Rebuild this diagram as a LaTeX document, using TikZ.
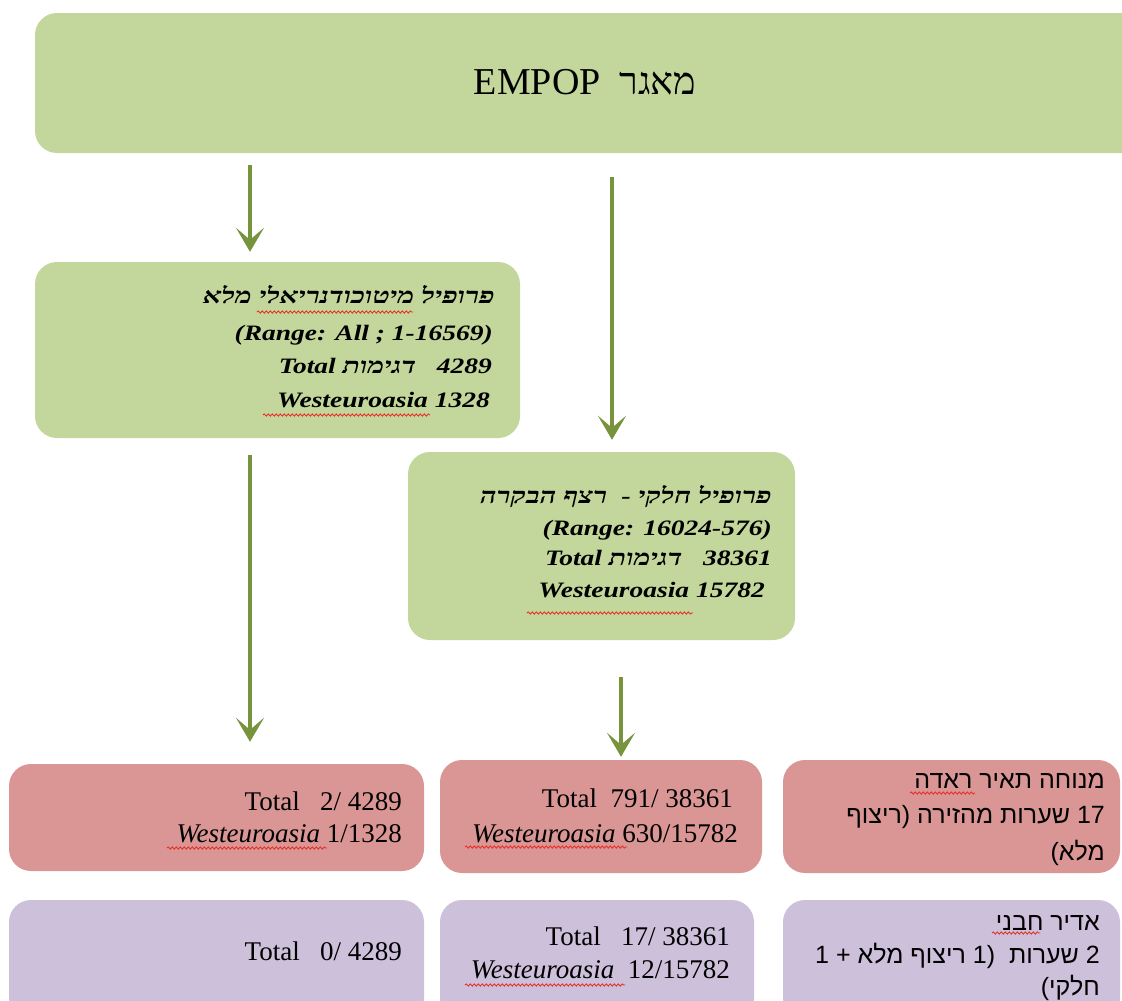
\documentclass[tikz,border=0pt]{standalone}
\usepackage{fontspec}
\setmainfont{Liberation Serif}
\newfontfamily\hebserif[Script=Hebrew]{Liberation Serif}
\newfontfamily\gfont[FakeStretch=1.25]{Liberation Serif}
\newfontfamily\ghebfont[Script=Hebrew,FakeStretch=1.3]{Liberation Serif}
\newfontfamily\hebsans[Script=Hebrew]{Liberation Sans}
\usetikzlibrary{arrows.meta,decorations.pathmorphing}
\TeXXeTstate=1
\definecolor{gfill}{HTML}{C3D69B}
\definecolor{garrow}{HTML}{77933C}
\definecolor{rfill}{HTML}{D99694}
\definecolor{pfill}{HTML}{CCC0DA}
\definecolor{squig}{HTML}{E8302A}
\tikzset{
  box/.style={rounded corners=22pt, draw=none, inner sep=0pt},
  gbox/.style={box, fill=gfill},
  rbox/.style={box, fill=rfill},
  pbox/.style={box, fill=pfill},
  arr/.style={draw=garrow, line width=4.5pt, -{Stealth[length=24pt,width=28pt,inset=12pt]}},
  gtxt/.style={anchor=base east, inner sep=0pt, font=\fontsize{22}{26}\selectfont\gfont\bfseries\itshape},
  btxt/.style={anchor=base east, inner sep=0pt, font=\fontsize{27}{30}\selectfont},
  htxt/.style={anchor=base east, inner sep=0pt, font=\fontsize{25}{28}\selectfont\hebsans},
  wavy/.style={draw=squig, line width=0.9pt, decorate, decoration={snake, segment length=4pt, amplitude=1.1pt}}
}
\newcommand{\gheb}[1]{{\ghebfont\bfseries\itshape\beginR #1\endR}}
\begin{document}
\begin{tikzpicture}[x=1pt,y=-1pt]
\useasboundingbox (0,0) rectangle (1122,1001);
\begin{scope}
\clip (0,0) rectangle (1122,1001);
% boxes
\node[gbox, minimum width=1115pt, minimum height=140pt] (top) at (592.5,83) {};
\node[gbox, minimum width=485pt, minimum height=176pt] (A) at (277.5,350) {};
\node[gbox, minimum width=387pt, minimum height=188pt] (B) at (601.5,546) {};
\node[rbox, minimum width=415pt, minimum height=107pt] (R1) at (216.5,817.5) {};
\node[rbox, minimum width=322pt, minimum height=113pt] (R2) at (601,816.5) {};
\node[rbox, minimum width=337pt, minimum height=113pt] (R3) at (951.5,816.5) {};
\node[pbox, minimum width=415pt, minimum height=120pt] (P1) at (216.5,960) {};
\node[pbox, minimum width=314pt, minimum height=120pt] (P2) at (597,960) {};
\node[pbox, minimum width=337pt, minimum height=120pt] (P3) at (951.5,960) {};

% title
\node[inner sep=0pt, font=\fontsize{38}{40}\selectfont] (title) at (585,82)
  {EMPOP\ \ {\hebserif\beginR מאגר\endR}};

% box A text
\node[gtxt] (a1) at (495,303) {\gheb{פרופיל מיטוכודנריאלי מלא}};
\node[gtxt] (a2) at (493,340) {(Range: All ; 1-16569)};
\node[gtxt] (a3) at (492,373) {Total \gheb{דגימות}\ \ \ 4289};
\node[gtxt] (a4) at (490,407) {Westeuroasia 1328};

% box B text
\node[gtxt] (b1) at (772,503) {\gheb{פרופיל חלקי -\ \ רצף הבקרה}};
\node[gtxt] (b2) at (772,535) {(Range: 16024-576)};
\node[gtxt] (b3) at (772,565) {Total \gheb{דגימות}\ \ \ 38361};
\node[gtxt] (b4) at (765,597) {Westeuroasia 15782};

% red texts
\node[btxt] (r1a) at (402,810) {Total\ \ \ 2/ 4289};
\node[btxt] (r1b) at (402,842) {\textit{Westeuroasia} 1/1328};
\node[btxt] (r2a) at (733,807) {Total\ \ 791/ 38361};
\node[btxt] (r2b) at (738,842) {\textit{Westeuroasia} 630/15782};
\node[htxt] (r3a) at (1105,788) {\beginR מנוחה תאיר ראדה\endR};
\node[htxt] (r3b) at (1105,823) {\beginR 17 שערות מהזירה (ריצוף\endR};
\node[htxt] (r3c) at (1105,860) {\beginR מלא)\endR};

% purple texts
\node[btxt] (p1a) at (402,960) {Total\ \ \ 0/ 4289};
\node[btxt] (p2a) at (730,945) {Total\ \ \ 17/ 38361};
\node[btxt] (p2b) at (730,978) {\textit{Westeuroasia}\ \ 12/15782};
\node[htxt] (p3a) at (1100,930) {\beginR אדיר חבני\endR};
\node[htxt] (p3b) at (1100,963) {\beginR 2 שערות\ \ (1 ריצוף מלא + 1\endR};
\node[htxt] (p3c) at (1100,995) {\beginR חלקי)\endR};

% arrows
\draw[arr, shorten <=12pt, shorten >=10pt] (top.south -| 250,0) -- (A.north -| 250,0);
\draw[arr, shorten <=24pt, shorten >=12pt] (top.south -| 612,0) -- (B.north -| 612,0);
\draw[arr, shorten <=17pt, shorten >=22pt] (A.south -| 250,0) -- (R1.north -| 250,0);
\draw[arr, shorten <=37pt, shorten >=3pt] (B.south -| 621,0) -- (R2.north -| 621,0);

% spell-check underlines
\draw[wavy] (257,312) -- (413,312);
\draw[wavy] (263,415) -- (430,415);
\draw[wavy] (527,613) -- (693,613);
\draw[wavy] (167,848) -- (327,848);
\draw[wavy] (465,847) -- (627,847);
\draw[wavy] (465,985) -- (625,985);
\draw[wavy] (910,793) -- (975,793);
\draw[wavy] (992,933) -- (1040,933);
\end{scope}
\end{tikzpicture}
\end{document}
